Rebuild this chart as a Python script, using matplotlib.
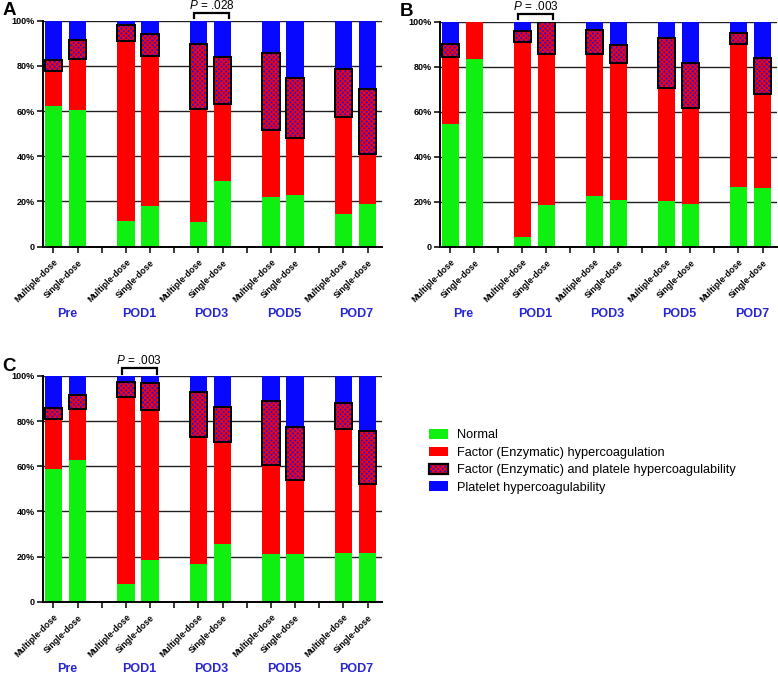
import numpy as np
import matplotlib
matplotlib.use('Agg')
import matplotlib.pyplot as plt
from matplotlib.patches import Patch

plt.rcParams['font.family'] = ['Liberation Sans', 'DejaVu Sans']
plt.rcParams['hatch.linewidth'] = 0.9

# ---------------------------------------------------------------
# data (percent of patients per category)
# ---------------------------------------------------------------
groups = ["Pre", "POD1", "POD3", "POD5", "POD7"]
doses = ["Multiple-dose", "Single-dose"]
legend_labels = ["Normal",
                 "Factor (Enzymatic) hypercoagulation",
                 "Factor (Enzymatic) and platele hypercoagulability",
                 "Platelet hypercoagulability"]

# order of bars: Pre-M, Pre-S, POD1-M, POD1-S, ... POD7-S
A_normal   = [62.2, 60.6, 11.4, 18.0, 10.9, 29.1, 22.1, 22.9, 14.6, 19.0]
A_factor   = [15.5, 22.6, 79.8, 66.4, 50.0, 34.0, 29.4, 25.3, 42.9, 22.0]
A_both     = [4.9, 8.2, 7.0, 9.6, 28.6, 21.0, 34.3, 26.3, 21.1, 28.6]
A_platelet = [17.4, 8.6, 1.8, 6.0, 10.5, 15.9, 14.2, 25.5, 21.4, 30.4]

B_normal   = [54.4, 83.4, 4.1, 18.5, 22.7, 20.6, 20.3, 19.1, 26.7, 25.9]
B_factor   = [30.0, 16.6, 87.0, 67.1, 62.9, 60.9, 50.1, 42.7, 63.2, 41.8]
B_both     = [5.5, 0.0, 4.9, 14.4, 10.7, 8.1, 22.2, 19.7, 5.2, 16.0]
B_platelet = [10.1, 0.0, 4.0, 0.0, 3.7, 10.4, 7.4, 18.5, 4.9, 16.3]

C_normal   = [58.6, 62.8, 7.7, 18.5, 16.5, 25.4, 21.1, 21.1, 21.4, 21.7]
C_factor   = [22.2, 22.6, 83.1, 66.4, 56.6, 45.5, 39.5, 32.8, 55.1, 30.4]
C_both     = [5.2, 6.2, 6.4, 11.9, 19.7, 15.5, 28.5, 23.6, 11.7, 23.7]
C_platelet = [14.0, 8.4, 2.8, 3.2, 7.2, 13.6, 10.9, 22.5, 11.8, 24.2]

# significance brackets: (group, p value text)
A_pval = ("POD3", ".028")
B_pval = ("POD1", ".003")
C_pval = ("POD1", ".003")

GREEN = '#10f010'
RED = '#ff0000'
BLUE = '#0808ff'
PURPLE = '#3010d0'
HATCH = 'x' * 7
GROUP_BLUE = '#2626d6'
BAR_W = 0.73


def draw_panel(ax, normal, factor, both, platelet, letter, pval):
    # 2 bars per group, one empty slot between groups
    x = np.array([3 * g + d for g in range(len(groups)) for d in range(2)], dtype=float)
    normal, factor, both, platelet = map(np.array, (normal, factor, both, platelet))

    ax.bar(x, normal, BAR_W, color=GREEN, lw=0, zorder=2)
    ax.bar(x, factor, BAR_W, bottom=normal, color=RED, lw=0, zorder=2)
    b2 = normal + factor
    for xi, bo, h in zip(x, b2, both):
        if h <= 0:
            continue
        ax.bar(xi, h, BAR_W, bottom=bo, color=PURPLE, edgecolor=RED,
               hatch=HATCH, lw=0, zorder=2)
        ax.bar(xi, h, BAR_W, bottom=bo, facecolor='none', edgecolor='black',
               lw=1.4, zorder=3)
    ax.bar(x, platelet, BAR_W, bottom=b2 + both, color=BLUE, lw=0, zorder=2)

    ax.set_xlim(-0.43, 13.6)
    ax.set_ylim(0, 100)
    ax.set_yticks([0, 20, 40, 60, 80, 100])
    ax.set_yticklabels(['0', '20%', '40%', '60%', '80%', '100%'],
                       fontsize=6.5, fontweight='bold')
    ax.yaxis.grid(True, color='#202020', lw=1.0, zorder=0)
    ax.set_axisbelow(True)

    ticks = np.arange(0, 14)
    labels = ['' if t % 3 == 2 else doses[t % 3] for t in ticks]
    ax.set_xticks(ticks)
    ax.set_xticklabels(labels, rotation=45, ha='right', rotation_mode='anchor',
                       fontsize=6.3, fontweight='bold')
    ax.tick_params(axis='both', length=4, width=1.1, direction='out', pad=2)
    ax.tick_params(axis='x', pad=4)

    for s in ['top', 'right']:
        ax.spines[s].set_visible(False)
    for s in ['left', 'bottom']:
        ax.spines[s].set_linewidth(1.4)

    for g, name in enumerate(groups):
        ax.text(3 * g + 0.55, -0.3, name, transform=ax.get_xaxis_transform(),
                ha='center', va='center', color=GROUP_BLUE,
                fontsize=9, fontweight='bold')

    ax.text(-0.12, 1.043, letter, transform=ax.transAxes, fontsize=13.5,
            fontweight='bold', ha='left', va='center')

    gname, ptxt = pval
    g = groups.index(gname)
    x0, x1 = 3 * g - 0.18, 3 * g + 1.28
    ax.plot([x0, x0, x1, x1], [101.0, 103.4, 103.4, 101.0], color='black',
            lw=1.6, clip_on=False, solid_joinstyle='miter')
    ax.text((x0 + x1) / 2, 106.9, r'$P$ = ' + ptxt, ha='center', va='center',
            fontsize=8.5)


plt.rcParams['mathtext.fontset'] = 'custom'
plt.rcParams['mathtext.it'] = 'Liberation Sans:italic'
plt.rcParams['mathtext.rm'] = 'Liberation Sans'

fig = plt.figure(figsize=(7.78, 6.74), dpi=100)
axA = fig.add_axes([0.0553, 0.634, 0.4357, 0.3353])
axB = fig.add_axes([0.5656, 0.634, 0.4330, 0.3340])
axC = fig.add_axes([0.0553, 0.1073, 0.4357, 0.3350])

draw_panel(axA, A_normal, A_factor, A_both, A_platelet, 'A', A_pval)
draw_panel(axB, B_normal, B_factor, B_both, B_platelet, 'B', B_pval)
draw_panel(axC, C_normal, C_factor, C_both, C_platelet, 'C', C_pval)

handles = [
    Patch(facecolor=GREEN, lw=0),
    Patch(facecolor=RED, lw=0),
    (Patch(facecolor=PURPLE, edgecolor=RED, hatch=HATCH, lw=0),
     Patch(facecolor='none', edgecolor='black', lw=1.6)),
    Patch(facecolor=BLUE, lw=0),
]
fig.legend(handles, legend_labels, loc='upper left',
           bbox_to_anchor=(0.545, 1 - 424 / 674), frameon=False, fontsize=9.2,
           handlelength=1.5, handleheight=0.8, labelspacing=0.4,
           handletextpad=0.7, borderaxespad=0)

fig.savefig('out.png', dpi=100)
